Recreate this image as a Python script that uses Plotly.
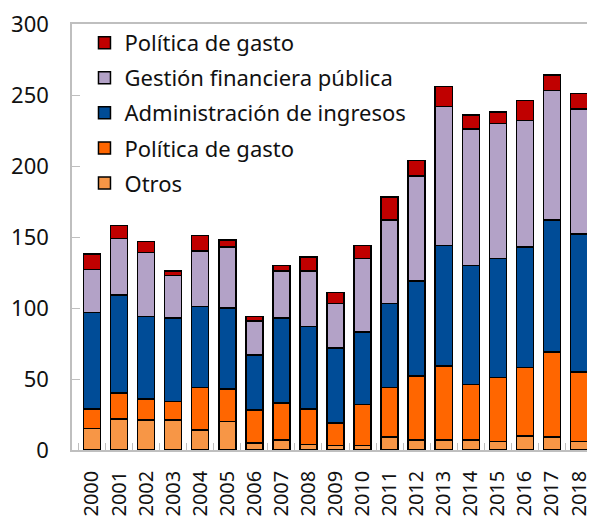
import plotly.graph_objects as go

years = [str(y) for y in range(2000, 2019)]
otros = [15, 22, 21, 21, 14, 20, 5, 7, 4, 3, 3, 9, 7, 7, 7, 6, 10, 9, 6]
politica_gasto_naranja = [14, 18, 15, 13, 30, 23, 23, 26, 25, 16, 29, 35, 45, 52, 39, 45, 48, 60, 49]
administracion_ingresos = [68, 69, 58, 59, 57, 57, 39, 60, 58, 53, 51, 59, 67, 85, 84, 84, 85, 93, 97]
gestion_financiera = [30, 40, 45, 30, 39, 43, 24, 33, 39, 31, 52, 59, 74, 98, 96, 95, 89, 91, 88]
politica_gasto_rojo = [11, 9, 8, 3, 11, 5, 3, 4, 10, 8, 9, 16, 11, 14, 10, 8, 14, 11, 11]

series = [
    ("Otros", otros, "#F79646"),
    ("Política de gasto", politica_gasto_naranja, "#FF6600"),
    ("Administración de ingresos", administracion_ingresos, "#004C97"),
    ("Gestión financiera pública", gestion_financiera, "#B3A2C7"),
    ("Política de gasto", politica_gasto_rojo, "#C00000"),
]

font_family = "Noto Sans, Open Sans, sans-serif"

fig = go.Figure()
n = len(series)
for i, (name, vals, color) in enumerate(series):
    fig.add_trace(go.Bar(
        x=years, y=vals, name=name, legendgroup=f"g{i}", legendrank=n - i,
        marker=dict(color=color, line=dict(color="black", width=1.5)),
    ))

# page body has an 8px default margin, so the figure is 8px smaller and offsets compensated
fig.update_layout(
    width=587, height=508,
    barmode="stack", bargap=0.37,
    paper_bgcolor="white", plot_bgcolor="white",
    margin=dict(l=64, r=3, t=16, b=66),
    font=dict(family=font_family, size=22, color="#111111"),
    legend=dict(
        x=0.024, y=1.005, xanchor="left", yanchor="top",
        traceorder="grouped", tracegroupgap=3.5,
        font=dict(size=22), bgcolor="rgba(0,0,0,0)",
        itemwidth=30,
    ),
    showlegend=True,
)
fig.update_xaxes(
    type="category", range=[-0.739, 18.48], automargin=False,
    tickson="boundaries", ticks="inside", ticklen=7, tickcolor="#BFBFBF",
    tickangle=-90, tickfont=dict(size=20), ticklabelstandoff=11,
    ticklabeloverflow="allow",
    showline=True, linecolor="#BFBFBF", linewidth=1.5, mirror=True,
    showgrid=False,
)
fig.update_yaxes(
    range=[0, 300], dtick=50, ticks="inside", ticklen=8, tickcolor="#BFBFBF",
    tickfont=dict(size=22), automargin=False, ticklabelstandoff=17,
    ticklabeloverflow="allow",
    showline=True, linecolor="#BFBFBF", linewidth=1.5,
    showgrid=False, zeroline=False,
)

fig.write_html("out.html")
